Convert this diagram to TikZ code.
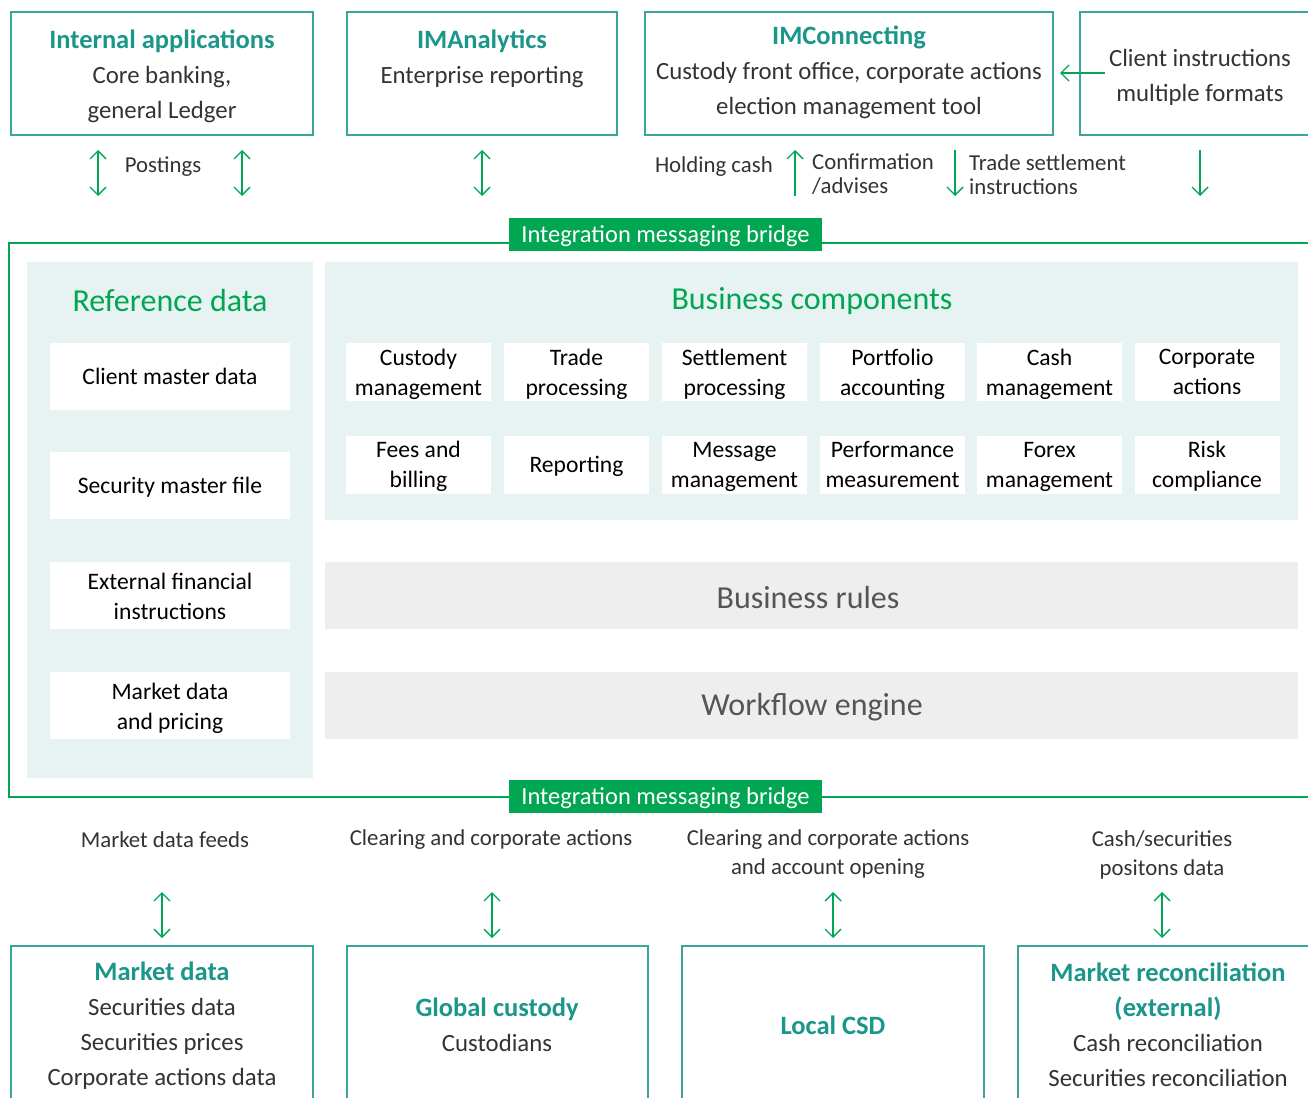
\documentclass[tikz,border=0pt]{standalone}
\usepackage{fontspec}
\setmainfont{Carlito}
\usetikzlibrary{arrows.meta}
\definecolor{tealc}{HTML}{1A968A}
\definecolor{tealb}{HTML}{3AA699}
\definecolor{grn}{HTML}{00A651}
\definecolor{panel}{HTML}{E6F3F2}
\definecolor{rulebg}{HTML}{EEEEEE}
\definecolor{txt}{HTML}{333333}
\definecolor{rtxt}{HTML}{555555}
\newcommand{\hdfont}{\fontsize{26.5}{35}\selectfont\bfseries}
\begin{document}
\begin{tikzpicture}[x=1pt,y=-1pt,
  outbox/.style={draw=tealb, line width=1.5pt, minimum width=302, minimum height=123, inner sep=0},
  bodytxt/.style={text=txt, font=\fontsize{24.8}{35}\selectfont, align=center, inner sep=0},
  hdtxt/.style={text=tealc, font=\hdfont, align=center, inner sep=0},
  lbl/.style={text=txt, font=\fontsize{22.8}{29}\selectfont, align=center, inner sep=0},
  garrow/.style={draw=grn, line width=1.4pt, -{Straight Barb[length=8pt,width=16pt]}},
  gdarrow/.style={draw=grn, line width=1.4pt, {Straight Barb[length=8pt,width=16pt]}-{Straight Barb[length=8pt,width=16pt]}},
  bridge/.style={fill=grn, minimum width=313, minimum height=33, inner sep=0},
  bridgetxt/.style={text=white, font=\fontsize{24.5}{26}\selectfont, inner sep=0},
  panelbox/.style={fill=panel, inner sep=0},
  wbox/.style={fill=white, inner sep=0},
  wtxt/.style={text=black, font=\fontsize{23.6}{30}\selectfont, align=center, inner sep=0},
  rulebox/.style={fill=rulebg, minimum width=973, minimum height=67, inner sep=0},
  ruletxt/.style={text=rtxt, font=\fontsize{32}{36}\selectfont, inner sep=0},
  pantitle/.style={text=grn, font=\fontsize{32}{36}\selectfont, inner sep=0}
]
\clip (0,0) rectangle (1308,1097);
\useasboundingbox (0,0) rectangle (1308,1097);
\fill[white] (0,0) rectangle (1308,1097);

% ---------- top boxes ----------
\node[outbox] (ia) at (162,73.5) {};
\node[outbox, minimum width=270] (ima) at (482,73.5) {};
\node[outbox, minimum width=408] (imc) at (849,73.5) {};
\node[outbox, minimum width=240] (cli) at (1200,73.5) {};

\node[bodytxt] (iat) at (162,76) {{\color{tealc}\hdfont Internal applications}\\Core banking,\\general Ledger};
\node[bodytxt] (imat) at (482,58.5) {{\color{tealc}\hdfont IMAnalytics}\\Enterprise reporting};
\node[bodytxt] (imct) at (849,72.5) {{\color{tealc}\hdfont IMConnecting}\\Custody front office, corporate actions\\election management tool};
\node[bodytxt] (clit) at (1200,77) {Client instructions\\multiple formats};

\coordinate (ca) at (1105,73);
\coordinate (cb) at (1060,73);
\draw[garrow] (ca) -- (cb);

% top connectors
\coordinate (t1a) at (98,150);  \coordinate (t1b) at (98,196);
\coordinate (t2a) at (242,150); \coordinate (t2b) at (242,196);
\coordinate (t3a) at (482,150); \coordinate (t3b) at (482,196);
\coordinate (t4a) at (795,150); \coordinate (t4b) at (795,196);
\coordinate (t5a) at (955,150); \coordinate (t5b) at (955,196);
\coordinate (t6a) at (1200,150); \coordinate (t6b) at (1200,196);
\draw[gdarrow] (t1a) -- (t1b);
\draw[gdarrow] (t2a) -- (t2b);
\draw[gdarrow] (t3a) -- (t3b);
\draw[garrow] (t4b) -- (t4a);
\draw[garrow] (t5a) -- (t5b);
\draw[garrow] (t6a) -- (t6b);

\node[lbl] (post) at (163,167) {Postings};
\node[lbl, anchor=east] (hold) at (773,167) {Holding cash};
\node[lbl, anchor=north west, align=left, font=\fontsize{22.8}{24}\selectfont] (conf) at (812,154) {Confirmation\\/advises};
\node[lbl, anchor=north west, align=left, font=\fontsize{22.8}{24}\selectfont] (trade) at (969,154) {Trade settlement\\instructions};

% ---------- frame ----------
\coordinate (fr1) at (1320,243);
\coordinate (fr2) at (9,243);
\coordinate (fr3) at (9,797);
\coordinate (fr4) at (1320,797);
\draw[grn, line width=2pt] (fr1) -- (fr2) -- (fr3) -- (fr4);
\node[bridge] (br1) at (665.5,234.5) {};
\node[bridgetxt] (br1t) at (665.5,236.5) {Integration messaging bridge};
\node[bridge] (br2) at (665.5,796.5) {};
\node[bridgetxt] (br2t) at (665.5,798.5) {Integration messaging bridge};

% ---------- reference data ----------
\node[panelbox, minimum width=286, minimum height=516] (refp) at (170,520) {};
\node[pantitle] (reft) at (170,301) {Reference data};
\foreach \n/\y/\ty/\t in {1/376.5/378/{Client master data}, 2/485.5/487/{Security master file},
   3/595.5/598/{External financial\\instructions}, 4/705.5/708/{Market data\\and pricing}}
{
  \node[wbox, minimum width=240, minimum height=67] (r\n) at (170,\y) {};
  \node[wtxt] (r\n t) at (170,\ty) {\vphantom{Tg}\t\vphantom{Tg}};
}

% ---------- business components ----------
\node[panelbox, minimum width=973, minimum height=258] (bcp) at (811.5,391) {};
\node[pantitle] (bct) at (812,301) {Business components};
\foreach \n/\x/\y/\t in {
  1/418.5/372/{Custody\\management},
  2/576.5/372/{Trade\\processing},
  3/734.5/372/{Settlement\\processing},
  4/892.5/372/{Portfolio\\accounting},
  5/1049.5/372/{Cash\\management},
  6/1207/372/{Corporate\\actions},
  7/418.5/464.5/{Fees and\\billing},
  8/576.5/464.5/{Reporting},
  9/734.5/464.5/{Message\\management},
  10/892.5/464.5/{Performance\\measurement},
  11/1049.5/464.5/{Forex\\management},
  12/1207/464.5/{Risk\\compliance}}
{
  \node[wbox, minimum width=145, minimum height=58] (bc\n) at (\x,\y) {};
  \node[wtxt] (bc\n t) at (\x,\y+2) {\vphantom{Tg}\t\vphantom{Tg}};
}

\node[rulebox] (brules) at (811.5,595.5) {};
\node[ruletxt] (brulest) at (808,597.5) {Business rules};
\node[rulebox] (wfe) at (811.5,705.5) {};
\node[ruletxt] (wfet) at (812,707.5) {Workflow engine};

% ---------- bottom labels ----------
\node[lbl] (l1) at (165,840) {Market data feeds};
\node[lbl] (l2) at (491,840) {Clearing and corporate actions};
\node[lbl] (l3) at (828,854.5) {Clearing and corporate actions\\and account opening};
\node[lbl] (l4) at (1162,854.5) {Cash/securities\\positons data};

\coordinate (b1a) at (162,892);  \coordinate (b1b) at (162,938);
\coordinate (b2a) at (492,892);  \coordinate (b2b) at (492,938);
\coordinate (b3a) at (833,892);  \coordinate (b3b) at (833,938);
\coordinate (b4a) at (1162,892); \coordinate (b4b) at (1162,938);
\draw[gdarrow] (b1a) -- (b1b);
\draw[gdarrow] (b2a) -- (b2b);
\draw[gdarrow] (b3a) -- (b3b);
\draw[gdarrow] (b4a) -- (b4b);

% ---------- bottom boxes ----------
\node[outbox, minimum height=170] (mk) at (162,1031) {};
\node[outbox, minimum width=301, minimum height=170] (gc) at (497.5,1031) {};
\node[outbox, minimum height=170] (lc) at (833,1031) {};
\node[outbox, minimum height=170] (mr) at (1169,1031) {};

\node[bodytxt] (mkt) at (162,1026) {{\color{tealc}\hdfont Market data}\\Securities data\\Securities prices\\Corporate actions data};
\node[bodytxt] (gct) at (497,1025) {{\color{tealc}\hdfont Global custody}\\Custodians};
\node[hdtxt] (lct) at (833,1025) {Local CSD};
\node[bodytxt] (mrt) at (1168,1025) {{\color{tealc}\hdfont Market reconciliation}\\{\color{tealc}\hdfont (external)}\\Cash reconciliation\\Securities reconciliation};
\end{tikzpicture}
\end{document}
